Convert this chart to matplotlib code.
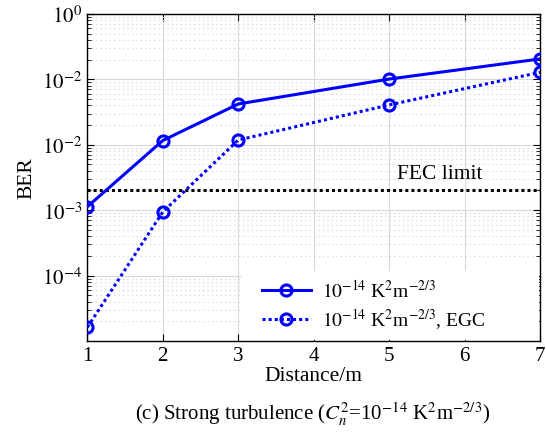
import matplotlib
matplotlib.use("Agg")
import matplotlib.pyplot as plt
from matplotlib.patches import Rectangle
from matplotlib.ticker import FixedLocator, FixedFormatter, LogLocator, NullFormatter

plt.rcParams['font.family'] = ['Liberation Serif', 'DejaVu Serif']
plt.rcParams['mathtext.fontset'] = 'stix'

distance = [1, 2, 3, 5, 7]
ber_plain = [1.13e-3, 1.16e-2, 4.2e-2, 1.01e-1, 2.05e-1]
ber_egc = [1.62e-5, 9.4e-4, 1.18e-2, 4.06e-2, 1.28e-1]
fec_limit = 2.0e-3
ytick_vals = [1e0, 1e-1, 1e-2, 1e-3, 1e-4]
ytick_labels = [r'$10^{0}$', r'$10^{-2}$', r'$10^{-2}$', r'$10^{-3}$', r'$10^{-4}$']
xticks = [1, 2, 3, 4, 5, 6, 7]

fig = plt.figure(figsize=(5.46, 4.39), dpi=100)
ax = fig.add_axes([0.160, 0.221, 0.829, 0.745])

ax.set_yscale('log')
ax.set_xlim(1, 7)
ax.set_ylim(1e-5, 1e0)

ax.grid(True, which='major', color='#d9d9d9', linestyle='-', linewidth=0.8)
ax.yaxis.set_minor_locator(LogLocator(base=10, subs=range(2, 10), numticks=20))
ax.yaxis.set_minor_formatter(NullFormatter())
ax.grid(True, which='minor', axis='y', color='#cfcfcf', linestyle=(0, (1, 3)), linewidth=0.8)

ax.axhline(fec_limit, color='black', linestyle=(0, (1, 1)), linewidth=2.2, zorder=3)
ax.text(5.11, fec_limit * 1.3, 'FEC limit', fontsize=15.5, va='bottom', ha='left')

ax.plot(distance, ber_plain, color='#0000ff', linewidth=2.2, marker='o',
        markersize=8, markerfacecolor='none', markeredgewidth=2.2,
        label=r'$10^{-14}$ K$^{2}$m$^{-2/3}$', zorder=4)
ax.plot(distance, ber_egc, color='#0000ff', linewidth=2.2, linestyle=(0, (1, 1)),
        marker='o', markersize=8, markerfacecolor='none', markeredgewidth=2.2,
        label=r'$10^{-14}$ K$^{2}$m$^{-2/3}$, EGC', zorder=4)

ax.yaxis.set_major_locator(FixedLocator(ytick_vals))
ax.yaxis.set_major_formatter(FixedFormatter(ytick_labels))
ax.set_xticks(xticks)
ax.tick_params(which='both', direction='in', top=True, right=True, labelsize=15)
ax.tick_params(which='major', length=5)
ax.tick_params(which='minor', length=3)
for s in ax.spines.values():
    s.set_linewidth(1.0)

ax.set_xlabel('Distance/m', fontsize=15.5, labelpad=1)
ax.set_ylabel('BER', fontsize=15.5, labelpad=4)

# white legend background
ax.add_patch(Rectangle((0.341, 0.003), 0.656, 0.211, transform=ax.transAxes,
                       facecolor='white', edgecolor='none', zorder=2.5))

leg = ax.legend(loc='center left', bbox_to_anchor=(0.386, 0.111), fontsize=14,
                frameon=False, borderaxespad=0, borderpad=0, handlelength=2.5,
                handletextpad=0.6, labelspacing=0.3)
leg.set_zorder(5)

fig.text(0.573, 0.055, r'(c) Strong turbulence ($C_n^2$=10$^{-14}$ K$^2$m$^{-2/3}$)',
         fontsize=15, ha='center', va='center')

fig.savefig('out.png', dpi=100)
